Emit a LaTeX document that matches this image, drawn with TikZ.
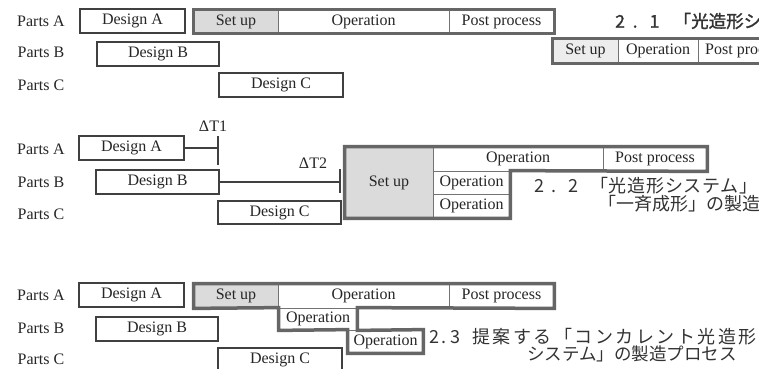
\documentclass[tikz,border=0pt]{standalone}
\usepackage{fontspec}
\setmainfont{Liberation Serif}
\newfontfamily\jp{Noto Sans CJK JP}
\newfontfamily\jpb[FakeBold=1.5]{Noto Sans CJK JP}
\newfontfamily\jpw[LetterSpace=14]{Noto Sans CJK JP}
\newfontfamily\jpm[LetterSpace=4]{Noto Sans CJK JP}
\begin{document}
\begin{tikzpicture}[x=1pt,y=-1pt,
  lbl/.style={font=\fontsize{16}{18}\selectfont, text=black!85, inner sep=0pt},
  dbox/.style={draw=black!75, line width=1.3pt, inner sep=0pt, minimum height=24pt,
    font=\fontsize{16}{18}\selectfont, text=black!85},
  cell/.style={draw=black!55, line width=0.8pt, inner sep=0pt,
    font=\fontsize{16}{18}\selectfont, text=black!85},
  setcell/.style={cell, fill=black!14},
  thickline/.style={draw=black!60, line width=3.5pt, line join=miter},
  tline/.style={draw=black!75, line width=1.2pt},
  jptext/.style={font=\jp\fontsize{18}{20}\selectfont, text=black!80, anchor=west, inner sep=0pt}]
\useasboundingbox (0,0) rectangle (759,368);
\clip (0,0) rectangle (759,368);
\fill[white] (0,0) rectangle (759,368);

% ---------- Section 1 ----------
\node[lbl] (pa1) at (41,21) {Parts A};
\node[lbl] (pb1) at (41,52) {Parts B};
\node[lbl] (pc1) at (41,85) {Parts C};
\node[dbox, minimum width=105pt] (dA1) at (132.5,21) {Design A};
\node[dbox, minimum width=122pt] (dB1) at (158,54) {Design B};
\node[dbox, minimum width=124pt] (dC1) at (281,85) {Design C};
\node[setcell, minimum width=84pt, minimum height=23pt] (s1) at (236,21.5) {Set up};
\node[cell, minimum width=171pt, minimum height=23pt] (o1) at (363.5,21.5) {Operation};
\node[cell, minimum width=105pt, minimum height=23pt] (p1) at (501.5,21.5) {Post process};
\draw[thickline] (s1.north west) rectangle (p1.south east);
\node[setcell, fill=black!7, minimum width=65pt, minimum height=24pt] (s1r) at (585.5,51) {Set up};
\node[cell, minimum width=80pt, minimum height=24pt] (o1r) at (658,51) {Operation};
\node[cell, minimum width=94pt, minimum height=24pt] (p1r) at (745,51) {Post process};
\draw[thickline] (s1r.north west) rectangle (p1r.south east);
\node[jptext, font=\jpb\fontsize{17.5}{20}\selectfont] (cap1) at (615,21) {\makebox[17.5pt][l]{2}\makebox[17pt][l]{.}\makebox[24pt][l]{1}「光造形シ};

% ---------- Section 2 ----------
\node[lbl] (dt1) at (213,126) {ΔT1};
\node[lbl] (pa2) at (41,149) {Parts A};
\node[lbl] (pb2) at (41,182) {Parts B};
\node[lbl] (pc2) at (41,214) {Parts C};
\node[dbox, minimum width=105pt] (dA2) at (131.5,148) {Design A};
\node[dbox, minimum width=123pt] (dB2) at (157.5,182) {Design B};
\node[dbox, minimum width=123pt, minimum height=23pt] (dC2) at (279.5,212.5) {Design C};
\coordinate (t1a) at (218,136);
\coordinate (t1b) at (218,165);
\draw[tline] (t1a) -- (t1b);
\draw[tline] (dA2.east) -- (dA2.east -| t1a);
\node[lbl] (dt2) at (313,163) {ΔT2};
\coordinate (t2a) at (340,169);
\coordinate (t2b) at (340,193);
\draw[tline] (t2a) -- (t2b);
\draw[tline] (dB2.east) -- (dB2.east -| t2a);
\node[setcell, minimum width=88pt, minimum height=71pt] (s2) at (389,182.5) {Set up};
\node[cell, minimum width=170pt, minimum height=24pt] (o2a) at (518,159) {Operation};
\node[cell, minimum width=104pt, minimum height=24pt] (p2) at (655,159) {Post process};
\node[cell, minimum width=77pt, minimum height=23.5pt] (o2b) at (471.5,182.75) {Operation};
\node[cell, minimum width=77pt, minimum height=23.5pt] (o2c) at (471.5,206.25) {Operation};
\draw[thickline] (s2.north west) -- (p2.north east) -- (p2.south east) -- (o2b.north east)
  -- (o2c.south east) -- (s2.south west) -- cycle;
\node[jptext] (cap2a) at (534,186) {\makebox[17pt][l]{2}\makebox[17pt][l]{.}\makebox[22pt][l]{2}{\jpm 「光造形システム」}};
\node[jptext] (cap2b) at (598,204) {「一斉成形」の製造};

% ---------- Section 3 ----------
\node[lbl] (pa3) at (41,295) {Parts A};
\node[lbl] (pb3) at (41,328) {Parts B};
\node[lbl] (pc3) at (41,359) {Parts C};
\node[dbox, minimum width=105pt] (dA3) at (131.5,295) {Design A};
\node[dbox, minimum width=122pt] (dB3) at (157,329) {Design B};
\node[dbox, minimum width=124pt] (dC3) at (280,360) {Design C};
\node[setcell, minimum width=84pt, minimum height=24pt] (s3) at (236,296) {Set up};
\node[cell, minimum width=171pt, minimum height=24pt] (o3a) at (363.5,296) {Operation};
\node[cell, minimum width=105pt, minimum height=24pt] (p3) at (501.5,296) {Post process};
\node[cell, minimum width=78pt, minimum height=22pt] (o3b) at (318,319) {Operation};
\node[cell, minimum width=75pt, minimum height=23pt] (o3c) at (385.5,341.5) {Operation};
\draw[thickline] (s3.north west) -- (p3.north east) -- (p3.south east) -- (o3b.north east)
  -- (o3b.south east) -- (o3c.north east) -- (o3c.south east) -- (o3c.south west)
  -- (o3c.north west) -- (o3b.south west) -- (o3b.north west) -- (s3.south west) -- cycle;
\node[jptext] (cap3a) at (429,337) {\makebox[12pt][l]{2}\makebox[9pt][l]{.}\makebox[22pt][l]{3}{\jpw 提案する「コンカレント光造形}};
\node[jptext, font=\jp\fontsize{17.5}{20}\selectfont] (cap3b) at (527,354) {システム」の製造プロセス};
\end{tikzpicture}
\end{document}
